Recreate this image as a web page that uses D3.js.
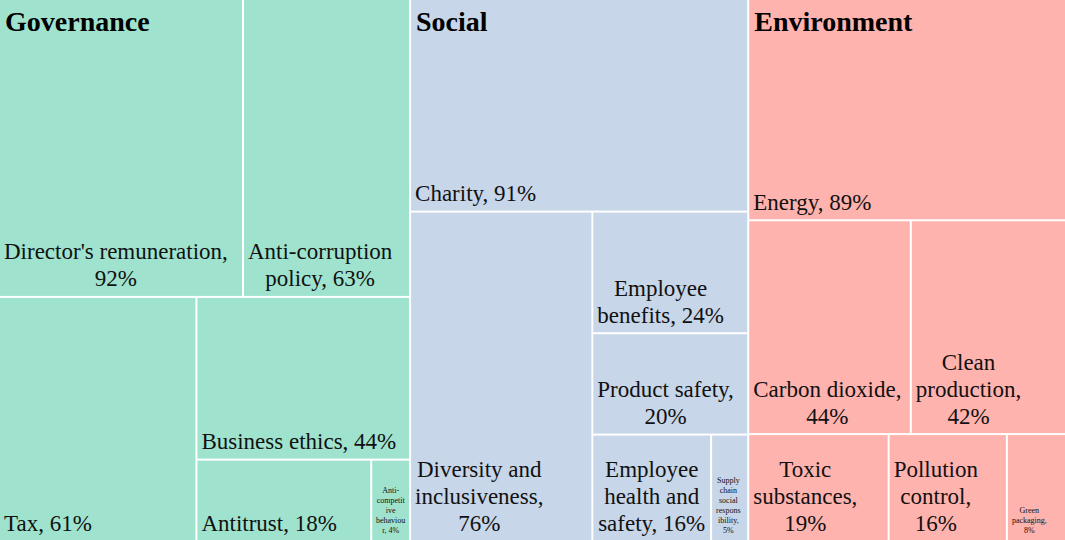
<!DOCTYPE html>
<html>
<head>
<meta charset="utf-8">
<script src="https://cdn.jsdelivr.net/npm/d3@7"></script>
<style>
  body { margin: 0; background: #fff; }
  svg { display: block; }
</style>
</head>
<body>
<script>
// three ESG groups, share of companies disclosing each item (%)
var categories = ["Governance", "Social", "Environment"];

var governanceValues = [92, 63, 61, 44, 18, 4];
var governanceLabels = ["Director's remuneration,\n92%", "Anti-corruption\npolicy, 63%", "Tax, 61%",
    "Business ethics, 44%", "Antitrust, 18%", "Anti-\ncompetit\nive\nbehaviou\nr, 4%"];

var socialValues = [91, 76, 24, 20, 16, 5];
var socialLabels = ["Charity, 91%", "Diversity and\ninclusiveness,\n76%", "Employee\nbenefits, 24%",
    "Product safety,\n20%", "Employee\nhealth and\nsafety, 16%", "Supply\nchain\nsocial\nrespons\nibility,\n5%"];

var environmentValues = [89, 44, 42, 19, 16, 8];
var environmentLabels = ["Energy, 89%", "Carbon dioxide,\n44%", "Clean\nproduction,\n42%",
    "Toxic\nsubstances,\n19%", "Pollution\ncontrol,\n16%", "Green\npackaging,\n8%"];

var width = 1065;
var height = 540;

var color = d3.scaleOrdinal()
    .domain(categories)
    .range(["#9fe3ce", "#c7d6e8", "#ffb3ae"]);

var leaves = function (values, labels) {
    return values.map((v, i) => ({ label: labels[i], value: v }));
};

var tree = {
    name: "root",
    children: [
        { name: categories[0], children: leaves(governanceValues, governanceLabels) },
        { name: categories[1], children: leaves(socialValues, socialLabels) },
        { name: categories[2], children: leaves(environmentValues, environmentLabels) }
    ]
};

var root = d3.hierarchy(tree)
    .sum(d => d.value)
    .sort((a, b) => b.value - a.value);

d3.treemap()
    .size([width, height])
    .tile(d3.treemapSquarify.ratio(1))
    .paddingInner(2)
    .round(false)(root);

let svg = d3.select('body').append('svg')
    .attr('width', width)
    .attr('height', height);

svg.append("rect")
    .attr("width", width)
    .attr("height", height)
    .attr("fill", "#fff");

var cell = svg.selectAll("g.cell")
    .data(root.leaves())
    .enter()
    .append("g")
    .attr("class", "cell");

cell.append("rect")
    .attr("x", d => d.x0)
    .attr("y", d => d.y0)
    .attr("width", d => d.x1 - d.x0)
    .attr("height", d => d.y1 - d.y0)
    .attr("fill", d => color(d.parent.data.name));

// labels sit at the bottom of each cell, lines centred on each other
cell.each(function (d) {
    var g = d3.select(this);
    var w = d.x1 - d.x0;
    var small = w < 70;
    var fs = small ? 8 : 23;
    var lh = small ? 10 : 27;
    var lines = d.data.label.split("\n");
    var bottom = d.y1 - (small ? 7 : 9.5);

    var text = g.append("text")
        .attr("font-family", "'Liberation Serif', 'Times New Roman', serif")
        .attr("font-size", fs)
        .attr("fill", "#111")
        .attr("text-anchor", "middle");

    var spans = lines.map((l, i) => text.append("tspan")
        .attr("y", bottom - (lines.length - 1 - i) * lh)
        .text(l));

    var bw = d3.max(spans, s => s.node().getComputedTextLength());
    var cx = (w - bw < 10) ? (d.x0 + d.x1) / 2 : d.x0 + 4 + bw / 2;
    spans.forEach(s => s.attr("x", cx));
});

// group titles in the top-left corner of each group
svg.selectAll("text.group")
    .data(root.children)
    .enter()
    .append("text")
    .attr("class", "group")
    .attr("x", d => d.x0 + 5)
    .attr("y", d => d.y0 + 31)
    .attr("font-family", "'Liberation Serif', 'Times New Roman', serif")
    .attr("font-weight", "bold")
    .attr("font-size", 28)
    .attr("fill", "#000")
    .text(d => d.data.name);
</script>
</body>
</html>
